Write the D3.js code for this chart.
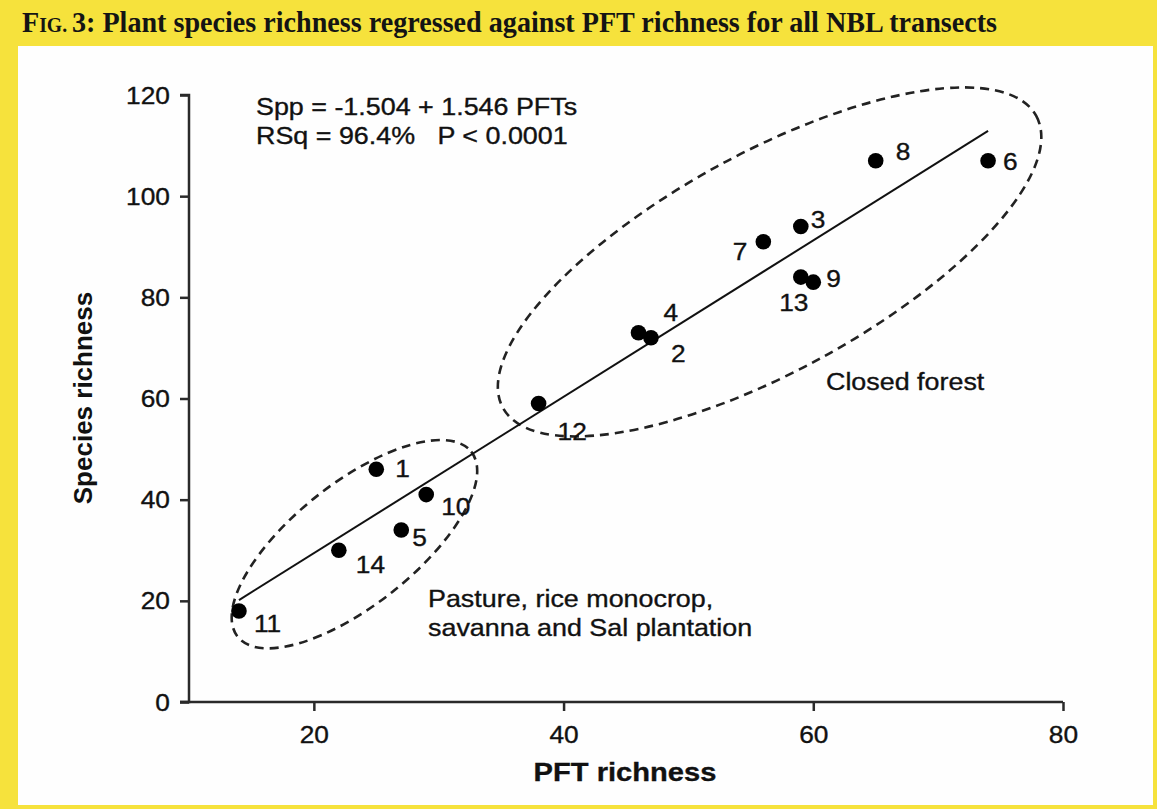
<!DOCTYPE html>
<html>
<head>
<meta charset="utf-8">
<script src="https://cdn.jsdelivr.net/npm/d3@7/dist/d3.min.js"></script>
<style>
  html, body { margin: 0; padding: 0; background: #fff; }
  svg { display: block; }
</style>
</head>
<body>
<svg id="chart" width="1157" height="809"></svg>
<script>
// ---- data ----
const transects = ["1","2","3","4","5","6","7","8","9","10","11","12","13","14"];
const pftRichness = [25, 47, 59, 46, 27, 74, 56, 65, 60, 29, 14, 38, 59, 22];
const speciesRichness = [46, 72, 94, 73, 34, 107, 91, 107, 83, 41, 18, 59, 84, 30];
const xTicks = [20, 40, 60, 80];
const yTicks = [0, 20, 40, 60, 80, 100, 120];
const intercept = -1.504;
const slope = 1.546;
const fitRange = [14, 74];
const equationLines = ["Spp = -1.504 + 1.546 PFTs", "RSq = 96.4%   P < 0.0001"];
const groupNames = ["Pasture, rice monocrop,|savanna and Sal plantation", "Closed forest"];
const titleText = "Plant species richness regressed against PFT richness for all NBL transects";
const xLabel = "PFT richness";
const yLabel = "Species richness";

// ---- layout (not data) ----
const W = 1157, H = 809;
const SX = 1.12; // horizontal stretch of text in the reference
const labelOffset = {
  "1": [19, 8, "start"], "10": [15, 20, "start"], "5": [11, 16, "start"],
  "14": [17, 23, "start"], "11": [15, 21, "start"], "12": [19, 36, "start"],
  "4": [25, -12, "start"], "2": [20, 24, "start"], "7": [-16, 18, "end"],
  "3": [10, 1, "start"], "13": [-7, 34, "middle"], "9": [13, 5, "start"],
  "8": [20, -1, "start"], "6": [15, 9, "start"]
};
// ellipse annotations: centre in data units, radii in px, tilt in degrees
const ellipses = [
  { cx: 23.25, cy: 31.2, rx: 149, ry: 61, tilt: 38.4 },
  { cx: 56.5, cy: 87.0, rx: 304, ry: 109, tilt: 28.7 }
];

const svg = d3.select("#chart");
const ink = "#111";
const font = "'Liberation Sans', Arial, Helvetica, sans-serif";

// background frame
svg.append("rect").attr("x", 0).attr("y", 0).attr("width", W).attr("height", H).attr("fill", "#f6e23c");
svg.append("rect").attr("x", 18).attr("y", 46).attr("width", 1135).attr("height", 759).attr("fill", "#fefefe");

// title
const title = svg.append("text")
  .attr("x", 22).attr("y", 32)
  .attr("font-family", "'Liberation Serif', 'DejaVu Serif', serif")
  .attr("font-weight", "bold").attr("fill", "#141414")
  .attr("textLength", 975).attr("lengthAdjust", "spacingAndGlyphs");
title.append("tspan").attr("font-size", 30).text("F");
title.append("tspan").attr("font-size", 21).text("IG. ");
title.append("tspan").attr("font-size", 30).text("3: " + titleText);

const x = d3.scaleLinear().domain([10, 80]).range([189, 1063]);
const y = d3.scaleLinear().domain([0, 120]).range([702, 95]);

function stretchText(sel, px, py) {
  sel.attr("transform", `translate(${px},${py}) scale(${SX},1)`)
     .attr("stroke", ink).attr("stroke-width", 0.35);
}

// axes
const gx = svg.append("g").attr("transform", `translate(0,${y(0)})`)
  .call(d3.axisBottom(x).tickValues(xTicks).tickSizeInner(9).tickSizeOuter(0).tickFormat(d3.format("d")));
const gy = svg.append("g").attr("transform", `translate(${x(10)},0)`)
  .call(d3.axisLeft(y).tickValues(yTicks).tickSizeInner(9).tickSizeOuter(9).tickFormat(d3.format("d")));
[gx, gy].forEach(g => {
  g.select(".domain").attr("stroke", "#2a2a2a").attr("stroke-width", 2.5);
  g.selectAll(".tick line").attr("stroke", "#2a2a2a").attr("stroke-width", 2.5);
  g.selectAll(".tick text").attr("font-family", font).attr("font-size", 23.5).attr("fill", ink);
});
gy.select(".domain").attr("d", `M-9,${y(120)}H0V${y(0)}H-9`);
gx.select(".domain").attr("d", `M${x(10) - 9},0H${x(80)}`);
gx.selectAll(".tick text").attr("y", 0).attr("dy", 0)
  .each(function() { stretchText(d3.select(this), 0, 41); });
gy.selectAll(".tick text").attr("x", 0).attr("dy", 0)
  .each(function() { stretchText(d3.select(this), -19, 8); });

// axis labels
stretchText(svg.append("text").attr("font-family", font).attr("font-weight", "bold")
  .attr("font-size", 26).attr("fill", ink).attr("text-anchor", "middle").text(xLabel), 625, 781);
svg.append("text").attr("font-family", font).attr("font-weight", "bold")
  .attr("font-size", 26).attr("fill", ink).attr("text-anchor", "middle")
  .attr("transform", `translate(92,398) rotate(-90)`).text(yLabel);

// ellipses
svg.append("g").selectAll("ellipse").data(ellipses).join("ellipse")
  .attr("cx", 0).attr("cy", 0)
  .attr("rx", d => d.rx).attr("ry", d => d.ry)
  .attr("transform", d => `translate(${x(d.cx)},${y(d.cy)}) rotate(${-d.tilt})`)
  .attr("fill", "none").attr("stroke", "#222").attr("stroke-width", 2.6)
  .attr("stroke-dasharray", "9,6");

// regression line
svg.append("line")
  .attr("x1", x(fitRange[0])).attr("y1", y(intercept + slope * fitRange[0]))
  .attr("x2", x(fitRange[1])).attr("y2", y(intercept + slope * fitRange[1]))
  .attr("stroke", "#111").attr("stroke-width", 2);

// points
const pts = transects.map((t, i) => ({ t, px: pftRichness[i], sp: speciesRichness[i] }));
svg.append("g").selectAll("circle").data(pts).join("circle")
  .attr("cx", d => x(d.px)).attr("cy", d => y(d.sp)).attr("r", 7.8).attr("fill", "#000");

svg.append("g").selectAll("text").data(pts).join("text")
  .attr("font-family", font).attr("font-size", 23.5).attr("fill", ink)
  .attr("text-anchor", d => labelOffset[d.t][2])
  .text(d => d.t)
  .each(function(d) {
    stretchText(d3.select(this), x(d.px) + labelOffset[d.t][0], y(d.sp) + labelOffset[d.t][1]);
  });

// equation
equationLines.forEach((line, i) => {
  stretchText(svg.append("text").attr("font-family", font).attr("font-size", 24)
    .attr("fill", ink).attr("xml:space", "preserve").style("white-space", "pre").text(line), 256, 115 + i * 29);
});

// group labels
groupNames[0].split("|").forEach((line, i) => {
  stretchText(svg.append("text").attr("font-family", font).attr("font-size", 24)
    .attr("fill", ink).text(line), 428, 607 + i * 29);
});
stretchText(svg.append("text").attr("font-family", font).attr("font-size", 24)
  .attr("fill", ink).text(groupNames[1]), 826, 390);
</script>
</body>
</html>
